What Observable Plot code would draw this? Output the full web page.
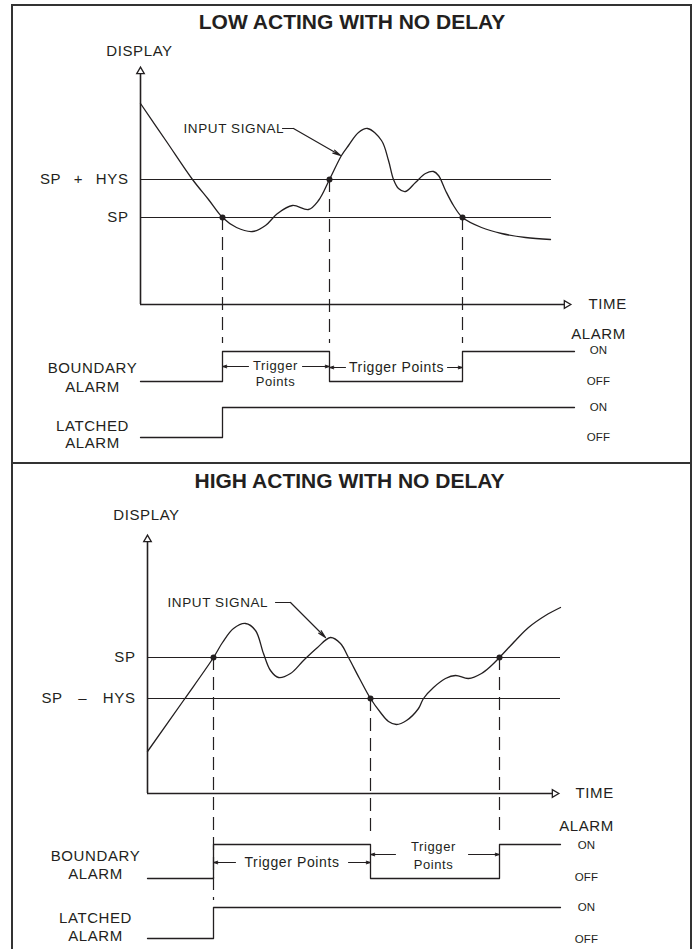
<!DOCTYPE html>
<html><head><meta charset="utf-8">
<script src="https://cdn.jsdelivr.net/npm/d3@7"></script>
<script src="https://cdn.jsdelivr.net/npm/@observablehq/plot@0.6"></script>
<style>
body{margin:0;background:#fff;}
#wrap{position:relative;width:696px;height:949px;overflow:hidden;}
#wrap svg{position:absolute;left:0;}
.frame{position:absolute;left:11px;top:4px;width:681px;height:1000px;border:2px solid #333;box-sizing:border-box;}
.divider{position:absolute;left:11px;top:462px;width:681px;height:2px;background:#333;}
</style></head><body><div id="wrap"><div class="frame"></div><div class="divider"></div></div>
<script>
// ---------- data (time t along the TIME axis, value v along the DISPLAY axis) ----------
const titles = ["LOW ACTING WITH NO DELAY", "HIGH ACTING WITH NO DELAY"];

// LOW ACTING panel
const lowSignal = [[0,201],[26,163],[52,125],[68,105],[82,87],[96,77],[112,73],[125,79],[137,91],[152,99],[168,95],[178,104],[189,125],[201,149],[208,159],[218,172],[227,176],[241,164],[248,144],[253,125],[258,116],[265,113],[275,122],[285,131],[293,133],[298,129],[305,114],[313,99],[322,87],[341,77],[361,71],[385,67],[410,65]];
const lowLevels = [{label:"SP + HYS", v:125}, {label:"SP", v:87}];
const lowTriggers = [{t:82, v:87, end:-39}, {t:189, v:125, end:-39}, {t:322, v:87, end:-39}];
const lowBoundary = [[0,"OFF"],[82,"ON"],[189,"OFF"],[322,"ON"]];
const lowLatched = [[0,"OFF"],[82,"ON"]];
const lowStateLevels = {boundary:{ON:-47, OFF:-77}, latched:{ON:-103, OFF:-133}};
const lowAxis = {xEnd:430, yEnd:237, levelEnd:411, traceEnd:434};
const lowStackText = [{label:"Trigger", t:135, v:-61}, {label:"Points", t:135, v:-77}];
const lowLineText = [{label:"Trigger Points", t:256, v:-63}];
const lowTriggerArrows = [[108,-62,82,-62],[162,-62,189,-62],[205,-63,189,-63],[307,-63,322,-63]];
const lowLeader = [[142,176],[153,176],[200,149]];
const lowLabels = {title:[211.5,282], display:[-1,253], time:[448,0], input:[43,176], left:-48, leftV:[-64,-83,-122,-139], right:458, alarmV:-30, stateV:[-46,-77,-103,-133]};

// HIGH ACTING panel
const highSignal = [[0,42],[36,93],[66,136],[75,151],[86,165],[98,170],[108,163],[116,140],[123,123],[131,116],[143,120],[156,133],[170,146],[183,156],[193,150],[201,136],[212,115],[223,95],[233,81],[241,72],[249,69],[259,73],[271,85],[276,95],[286,106],[298,115],[308,118],[321,115],[334,120],[344,128],[352,136],[368,153],[381,166],[398,178],[413,186]];
const highLevels = [{label:"SP", v:136}, {label:"SP \u2013 HYS", v:95}];
const highTriggers = [{t:66, v:136, end:-107}, {t:223, v:95, end:-42}, {t:352, v:136, end:-39}];
const highBoundary = [[0,"OFF"],[66,"ON"],[223,"OFF"],[352,"ON"]];
const highLatched = [[0,"OFF"],[66,"ON"]];
const highStateLevels = {boundary:{ON:-51, OFF:-85}, latched:{ON:-114, OFF:-145}};
const highAxis = {xEnd:411, yEnd:258, levelEnd:413, traceEnd:413};
const highStackText = [{label:"Trigger", t:286, v:-53}, {label:"Points", t:286, v:-71}];
const highLineText = [{label:"Trigger Points", t:144.5, v:-69}];
const highTriggerArrows = [[88,-69,66,-69],[201,-69,223,-69],[248,-61,223,-61],[321,-61,352,-61]];
const highLeader = [[128,191],[143,191],[178,156]];
const highLabels = {title:[202,312], display:[-1,278], time:[428,0], input:[20,191], left:-52, leftV:[-63,-81,-125,-143], right:439, alarmV:-33, stateV:[-52,-84,-114,-146]};

const leftNames = ["BOUNDARY","ALARM","LATCHED","ALARM"];
const stateNames = ["ON","OFF","ON","OFF"];

// ---------- drawing ----------
const ink = "#231f20";
const font = "'Liberation Sans', Arial, sans-serif";

function panel(cfg) {
  const {title, signal, levels, triggers, boundary, latched, states, axis, stackText, lineText, trigArrows, leader, labels, height, xDomain, yDomain, top} = cfg;
  const trace = (steps, lv) => {
    const pts = steps.map(([t, s]) => ({t, v: lv[s]}));
    pts.push({t: axis.traceEnd, v: pts[pts.length - 1].v});
    return pts;
  };
  const pts = signal.map(([t, v]) => ({t, v}));
  const head = 5;
  const leftText = leftNames.map((label, i) => ({label, t: labels.left, v: labels.leftV[i]}));
  const stateText = stateNames.map((label, i) => ({label, t: labels.right, v: labels.stateV[i]}));
  const svg = Plot.plot({
    width: 696, height, margin: 0,
    x: {domain: xDomain, range: [0, 696], axis: null},
    y: {domain: yDomain, range: [height, 0], axis: null},
    style: {fontFamily: font, background: "transparent", color: ink},
    marks: [
      // axes
      Plot.ruleX([0], {y1: 0, y2: axis.yEnd - head, stroke: ink, strokeWidth: 1.6}),
      Plot.ruleY([0], {x1: 0, x2: axis.xEnd - head, stroke: ink, strokeWidth: 1.6}),
      Plot.dot([{t: 0, v: axis.yEnd - 4}], {x: "t", y: "v", symbol: "triangle", r: 2.8, fill: "white", stroke: ink, strokeWidth: 1.3}),
      Plot.dot([{t: axis.xEnd - 4, v: 0}], {x: "t", y: "v", symbol: "triangle", r: 2.8, rotate: 90, fill: "white", stroke: ink, strokeWidth: 1.3}),
      // set-point lines
      Plot.ruleY(levels, {y: "v", x1: 0, x2: axis.levelEnd, stroke: ink, strokeWidth: 1.2}),
      // dashed trigger lines
      Plot.ruleX(triggers, {x: "t", y1: "v", y2: "end", stroke: ink, strokeWidth: 1.2, strokeDasharray: "13,7"}),
      // signal
      Plot.line(pts, {x: "t", y: "v", curve: "catmull-rom", stroke: ink, strokeWidth: 1.3}),
      Plot.dot(triggers, {x: "t", y: "v", r: 3, fill: ink}),
      // alarm traces
      Plot.line(trace(boundary, states.boundary), {x: "t", y: "v", curve: "step-after", stroke: ink, strokeWidth: 1.3}),
      Plot.line(trace(latched, states.latched), {x: "t", y: "v", curve: "step-after", stroke: ink, strokeWidth: 1.3}),
      // trigger arrows
      Plot.arrow(trigArrows, {x1: d => d[0], y1: d => d[1], x2: d => d[2], y2: d => d[3], stroke: ink, strokeWidth: 1.1, headLength: 6, headAngle: 35}),
      // input signal leader
      Plot.line(leader.slice(0, 2), {x: d => d[0], y: d => d[1], stroke: ink, strokeWidth: 1.1}),
      Plot.arrow([leader.slice(1)], {x1: d => d[0][0], y1: d => d[0][1], x2: d => d[1][0], y2: d => d[1][1], stroke: ink, strokeWidth: 1.2, headLength: 10, headAngle: 25}),
      // texts
      Plot.text([{label: title, t: labels.title[0], v: labels.title[1]}], {x: "t", y: "v", text: "label", fontSize: 21, fontWeight: "bold", fill: ink}),
      Plot.text([{label: "DISPLAY", t: labels.display[0], v: labels.display[1]}], {x: "t", y: "v", text: "label", fontSize: 15, fill: ink}),
      Plot.text([{label: "TIME", t: labels.time[0], v: labels.time[1]}], {x: "t", y: "v", text: "label", fontSize: 15, textAnchor: "start", fill: ink}),
      Plot.text([{label: "INPUT SIGNAL", t: labels.input[0], v: labels.input[1]}], {x: "t", y: "v", text: "label", fontSize: 13.5, textAnchor: "start", fill: ink}),
      Plot.text(levels, {x: () => -12, y: "v", text: "label", fontSize: 15, textAnchor: "end", fill: ink}),
      Plot.text(leftText, {x: "t", y: "v", text: "label", fontSize: 15, fill: ink}),
      Plot.text([{label: "ALARM", t: labels.right, v: labels.alarmV}], {x: "t", y: "v", text: "label", fontSize: 15, fill: ink}),
      Plot.text(stateText, {x: "t", y: "v", text: "label", fontSize: 11.5, fill: ink}),
      Plot.text(lineText, {x: "t", y: "v", text: "label", fontSize: 14, fill: ink}),
      Plot.text(stackText, {x: "t", y: "v", text: "label", fontSize: 13, fill: ink})
    ]
  });
  // CAD-style letter spacing
  const levelNames = new Set(levels.map(d => d.label));
  d3.select(svg).selectAll("text").each(function() {
    const s = this.textContent;
    if (titles.includes(s)) return;
    if (stateNames.includes(s)) { this.style.letterSpacing = "0.2px"; return; }
    this.style.letterSpacing = "0.6px";
    if (levelNames.has(s)) this.style.wordSpacing = s.includes("+") ? "8px" : "11px";
  });
  svg.style.top = top + "px";
  return svg;
}

const wrap = document.getElementById("wrap");
wrap.insertBefore(panel({
  title: titles[0], signal: lowSignal, levels: lowLevels, triggers: lowTriggers,
  boundary: lowBoundary, latched: lowLatched, states: lowStateLevels, axis: lowAxis,
  stackText: lowStackText, lineText: lowLineText, trigArrows: lowTriggerArrows, leader: lowLeader, labels: lowLabels,
  height: 463, xDomain: [-140, 556], yDomain: [-159, 304], top: 0
}), wrap.firstChild);
wrap.insertBefore(panel({
  title: titles[1], signal: highSignal, levels: highLevels, triggers: highTriggers,
  boundary: highBoundary, latched: highLatched, states: highStateLevels, axis: highAxis,
  stackText: highStackText, lineText: highLineText, trigArrows: highTriggerArrows, leader: highLeader, labels: highLabels,
  height: 486, xDomain: [-147, 549], yDomain: [-156, 330], top: 463
}), wrap.firstChild);
</script>
</body></html>
